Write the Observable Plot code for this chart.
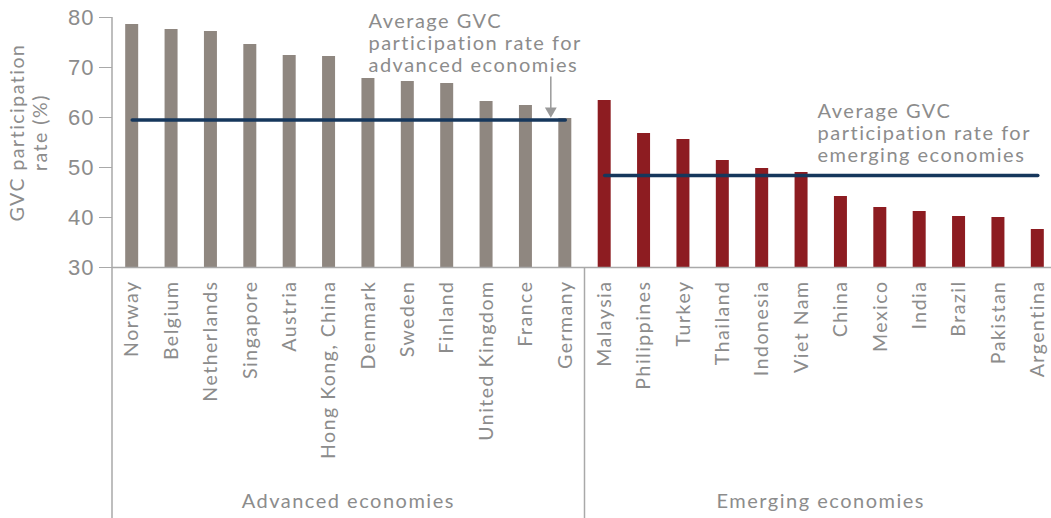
<!DOCTYPE html>
<html>
<head>
<meta charset="utf-8">
<script src="https://cdn.jsdelivr.net/npm/d3@7"></script>
<script src="https://cdn.jsdelivr.net/npm/@observablehq/plot@0.6"></script>
<style>
  html, body { margin: 0; padding: 0; background: #fff; }
  #chart svg text { letter-spacing: 1.5px; }
  #chart svg .ytick text { letter-spacing: 1px; }
</style>
</head>
<body>
<div id="chart"></div>
<script>
// ---- data ----
const advanced = ["Norway","Belgium","Netherlands","Singapore","Austria","Hong Kong, China","Denmark","Sweden","Finland","United Kingdom","France","Germany"];
const advancedValues = [78.6,77.6,77.2,74.6,72.4,72.2,67.8,67.2,66.8,63.2,62.4,59.8];
const emerging = ["Malaysia","Philippines","Turkey","Thailand","Indonesia","Viet Nam","China","Mexico","India","Brazil","Pakistan","Argentina"];
const emergingValues = [63.4,56.8,55.6,51.4,49.8,49.0,44.2,42.0,41.2,40.2,40.0,37.6];
const groupNames = ["Advanced economies","Emerging economies"];
const groupAverages = [59.5, 48.4];
const yTicks = [30,40,50,60,70,80];
const yTitle = ["GVC participation", "rate (%)"];
const annotations = [
  "Average GVC\nparticipation rate for\nadvanced economies",
  "Average GVC\nparticipation rate for\nemerging economies"
];

// ---- derived tables ----
const groups = [advanced, emerging];
const groupValues = [advancedValues, emergingValues];
const data = groups.flatMap((list, g) => list.map((c, i) => ({country: c, value: groupValues[g][i], group: groupNames[g]})));
const countries = data.map(d => d.country);
const avgData = groups.flatMap((list, g) => [
  {country: list[0], value: groupAverages[g], group: groupNames[g]},
  {country: list[list.length - 1], value: groupAverages[g], group: groupNames[g]}
]);

const GRAY_TEXT = "#8c8c8c";
const AXIS = "#a9a9a9";
const FONT = "Lato, 'Open Sans', sans-serif";

const plot = Plot.plot({
  width: 1051,
  height: 518,
  marginTop: 17,
  marginBottom: 251,
  marginLeft: 112,
  marginRight: 0,
  style: {fontFamily: FONT, background: "#fff", color: GRAY_TEXT, overflow: "visible"},
  x: {domain: countries, range: [112, 1057], paddingInner: 0.67, paddingOuter: 0.335, round: false, label: null},
  y: {domain: [30, 80], label: null},
  color: {domain: groupNames, range: ["#8f8780", "#8d1c21"]},
  marks: [
    Plot.barY(data, {x: "country", y1: 30, y2: "value", fill: "group"}),
    Plot.ruleY([30], {stroke: AXIS, strokeWidth: 1.5}),
    Plot.lineY(avgData, {x: "country", y: "value", z: "group", stroke: "#16375c", strokeWidth: 3.5}),
    Plot.axisY({ticks: yTicks, tickSize: 13, tickPadding: 5, fontSize: 22, fontFamily: "'Liberation Sans', Arial, sans-serif",
                stroke: AXIS, fill: GRAY_TEXT, label: null, className: "ytick"}),
    Plot.axisX({tickSize: 0, tickPadding: 13, tickRotate: -90, fontSize: 19.5, fill: GRAY_TEXT, label: null}),
    Plot.text([annotations[0]], {x: () => advanced[6], y: () => 81, text: d => d, textAnchor: "start", lineAnchor: "top",
                lineHeight: 1.1, fontSize: 20, fill: GRAY_TEXT}),
    Plot.text([annotations[1]], {x: () => emerging[5], y: () => 63.1, dx: 16, text: d => d, textAnchor: "start", lineAnchor: "top",
                lineHeight: 1.1, fontSize: 20, fill: GRAY_TEXT}),
    Plot.link([0], {x1: () => advanced[11], x2: () => advanced[11], y1: () => 68.2, y2: () => 61.6, dx: -14.5, stroke: "#999", strokeWidth: 1.5}),
    Plot.dot([0], {x: () => advanced[11], y: () => 61.3, dx: -14.5, symbol: "triangle", rotate: 180, r: 4.4, fill: "#999", stroke: "none"})
  ]
});

document.getElementById("chart").appendChild(plot);

// ---- group brackets, y-axis line and y title using the plot's own scales ----
const xs = plot.scale("x");
const ys = plot.scale("y");
const svg = d3.select(plot);
const bw = xs.bandwidth;
const H = 518;
const yTop = ys.apply(80);
const yBase = ys.apply(30);

const g = svg.append("g");
// y-axis line (extends down through label area)
g.append("line").attr("x1", xs.range[0]).attr("x2", xs.range[0]).attr("y1", yTop).attr("y2", H)
  .attr("stroke", AXIS).attr("stroke-width", 1.5);
// separator between groups
const sepX = (xs.apply(advanced[advanced.length - 1]) + bw + xs.apply(emerging[0])) / 2;
g.append("line").attr("x1", sepX).attr("x2", sepX).attr("y1", yBase).attr("y2", H)
  .attr("stroke", AXIS).attr("stroke-width", 1.5);
// group labels
groups.forEach((list, i) => {
  const cx = (xs.apply(list[0]) + xs.apply(list[list.length - 1]) + bw) / 2;
  g.append("text").attr("x", cx).attr("y", H - 10).attr("text-anchor", "middle")
    .attr("font-size", 20).attr("fill", GRAY_TEXT).attr("font-family", FONT).text(groupNames[i]);
});
// y title
const yMid = (yTop + yBase) / 2 - 9.5;
yTitle.forEach((line, i) => {
  g.append("text").attr("transform", `translate(${24 + i * 23},${yMid}) rotate(-90)`)
    .attr("text-anchor", "middle").attr("font-size", 19.5).attr("fill", GRAY_TEXT)
    .attr("font-family", FONT).text(line);
});
</script>
</body>
</html>
